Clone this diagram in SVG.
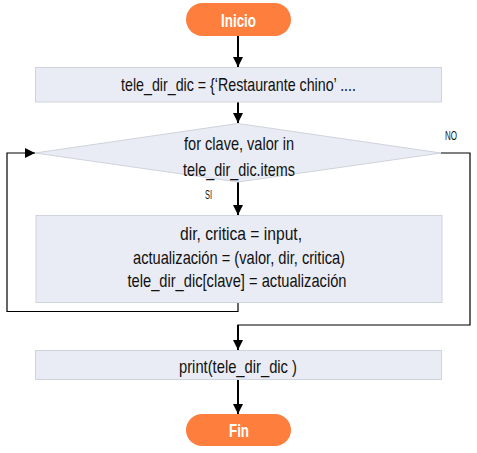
<svg xmlns="http://www.w3.org/2000/svg" width="477" height="453" viewBox="0 0 477 453">
<defs>
<marker id="ah" viewBox="0 0 10 10" refX="10" refY="5" markerWidth="10" markerHeight="10" markerUnits="userSpaceOnUse" orient="auto">
<path d="M0,0 L10,5 L0,10 z" fill="#000"/>
</marker>
<style>
.term{fill:#FD7E3D;}
.proc{fill:#E9ECF4;stroke:#CFD3DB;stroke-width:1;}
.tt{font-family:"Liberation Sans",Arial,sans-serif;font-size:19px;fill:#FFFFFF;font-weight:bold;text-anchor:middle;}
.t{font-family:"Liberation Sans",Arial,sans-serif;font-size:18.5px;fill:#111;text-anchor:middle;}
.lbl{font-family:"Liberation Sans",Arial,sans-serif;font-size:13px;fill:#111;}
.flow{fill:none;stroke:#000;stroke-width:2;}
.loop{fill:none;stroke:#000;stroke-width:1.2;}
</style>
</defs>
<rect width="477" height="453" fill="#FFFFFF"/>
<g id="connectors">
<line class="flow" x1="238" y1="36" x2="238" y2="67" marker-end="url(#ah)"/>
<line class="flow" x1="238" y1="102" x2="238" y2="123" marker-end="url(#ah)"/>
<line class="flow" x1="238" y1="182" x2="238" y2="215" marker-end="url(#ah)"/>
<polyline class="loop" points="238,302 238,311.5 7,311.5 7,153 35,153" marker-end="url(#ah)"/>
<polyline class="loop" points="441,153 470,153 470,325 238,325 238,340"/>
<line class="flow" x1="238" y1="325" x2="238" y2="350" marker-end="url(#ah)"/>
<line class="flow" x1="238" y1="379" x2="238" y2="414" marker-end="url(#ah)"/>
<text class="lbl" x="205" y="199" textLength="7" lengthAdjust="spacingAndGlyphs">SI</text>
<text class="lbl" x="445" y="140" textLength="12" lengthAdjust="spacingAndGlyphs">NO</text>
</g>
<g id="inicio">
<rect class="term" x="186" y="3" width="105" height="33" rx="16.5"/>
<text class="tt" x="238.5" y="26.5" textLength="35" lengthAdjust="spacingAndGlyphs">Inicio</text>
</g>
<g id="init">
<rect class="proc" x="35.5" y="67.5" width="406" height="34.5"/>
<text class="t" x="238.5" y="91" textLength="235" lengthAdjust="spacingAndGlyphs">tele_dir_dic = {‘Restaurante chino’ ....</text>
</g>
<g id="loop">
<polygon class="proc" points="238,123.5 441,153 238,182 35,153"/>
<text class="t" x="239" y="150" textLength="110" lengthAdjust="spacingAndGlyphs">for clave, valor in</text>
<text class="t" x="239" y="175.5" textLength="112" lengthAdjust="spacingAndGlyphs">tele_dir_dic.items</text>
</g>
<g id="body">
<rect class="proc" x="36" y="215.5" width="406" height="87"/>
<text class="t" x="241" y="240" textLength="122" lengthAdjust="spacingAndGlyphs">dir, critica = input,</text>
<text class="t" x="239" y="263.5" textLength="212" lengthAdjust="spacingAndGlyphs">actualización = (valor, dir, critica)</text>
<text class="t" x="237" y="287" textLength="219" lengthAdjust="spacingAndGlyphs">tele_dir_dic[clave] = actualización</text>
</g>
<g id="print">
<rect class="proc" x="35.5" y="350.5" width="406" height="29"/>
<text class="t" x="238" y="373" textLength="118" lengthAdjust="spacingAndGlyphs">print(tele_dir_dic )</text>
</g>
<g id="fin">
<rect class="term" x="186" y="414" width="105" height="32" rx="16"/>
<text class="tt" x="239" y="436.5" textLength="20" lengthAdjust="spacingAndGlyphs">Fin</text>
</g>
</svg>
